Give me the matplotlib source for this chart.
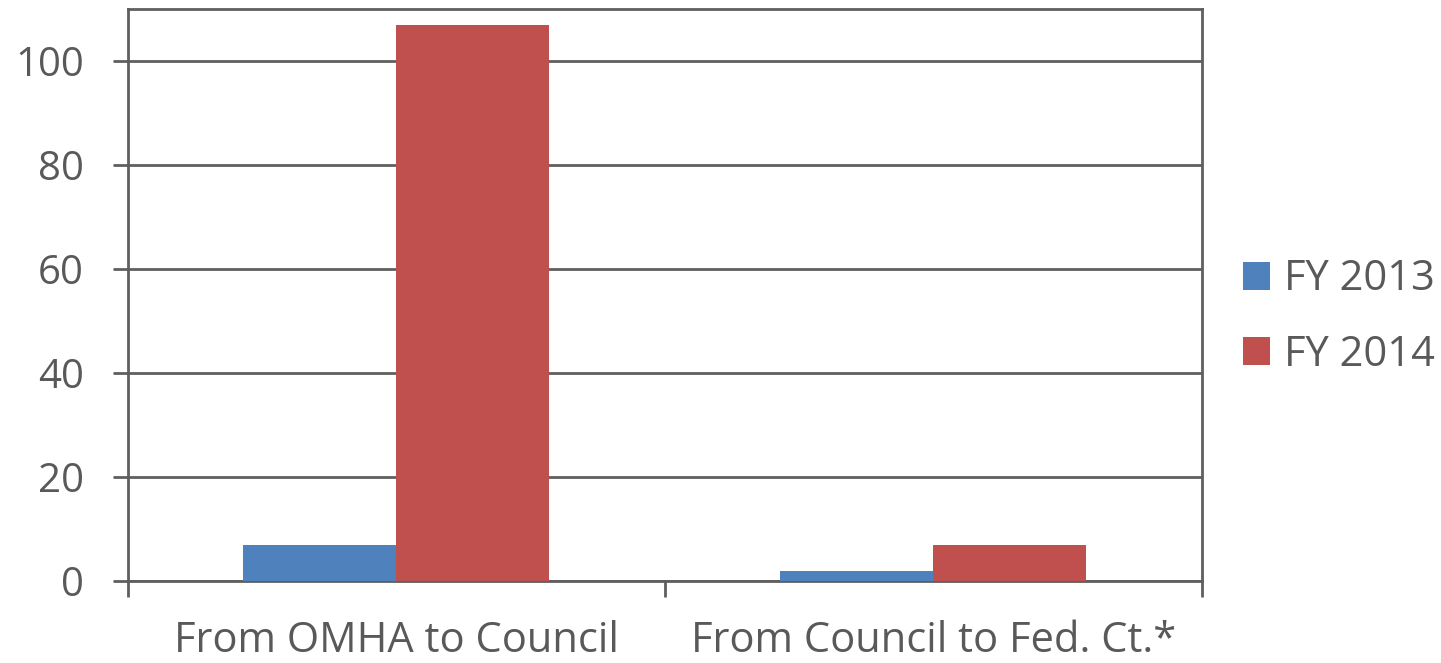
import matplotlib
matplotlib.use("Agg")
import matplotlib.pyplot as plt
import numpy as np

categories = ["From OMHA to Council", "From Council to Fed. Ct.*"]
series_names = ["FY 2013", "FY 2014"]
fy2013 = [7, 2]
fy2014 = [107, 7]
y_ticks = [0, 20, 40, 60, 80, 100]

colors = ["#4F81BD", "#C0504D"]
axis_color = "#5F5F5F"
text_color = "#595959"

plt.rcParams["font.family"] = ["Open Sans", "DejaVu Sans"]

fig = plt.figure(figsize=(14.41, 6.63), dpi=100)
ax = fig.add_axes([0.0888, 0.1237, 0.7453, 0.8627])

x = np.arange(len(categories))
width = 0.285
ax.bar(x - width / 2, fy2013, width, color=colors[0], label=series_names[0], zorder=3)
ax.bar(x + width / 2, fy2014, width, color=colors[1], label=series_names[1], zorder=3)

ax.set_xlim(-0.5, len(categories) - 0.5)
ax.set_ylim(0, 110)

ax.set_yticks(y_ticks)
ax.set_yticklabels([str(v) for v in y_ticks])
ax.yaxis.grid(True, color=axis_color, linewidth=2, zorder=0)
ax.set_axisbelow(True)

# Category boundaries carry the tick marks, labels sit at the centres
ax.set_xticks(np.arange(-0.5, len(categories), 1.0))
ax.set_xticklabels([])
ax.set_xticks(x, minor=True)
ax.set_xticklabels(categories, minor=True)
ax.tick_params(axis="x", which="major", length=11.5, width=2, color=axis_color)
ax.tick_params(axis="x", which="minor", length=0, pad=28, labelsize=30, labelcolor=text_color)
ax.tick_params(axis="y", length=10.8, width=2, color=axis_color, pad=21,
               labelsize=29, labelcolor=text_color)

for spine in ax.spines.values():
    spine.set_color(axis_color)
    spine.set_linewidth(2)

fig.legend(loc="center left", bbox_to_anchor=(0.8626, 0.522), frameon=False,
           fontsize=30, labelcolor=text_color, handlelength=0.65, handleheight=0.65,
           handletextpad=0.34, labelspacing=0.8, borderpad=0, borderaxespad=0)

fig.savefig("out.png", dpi=100)
